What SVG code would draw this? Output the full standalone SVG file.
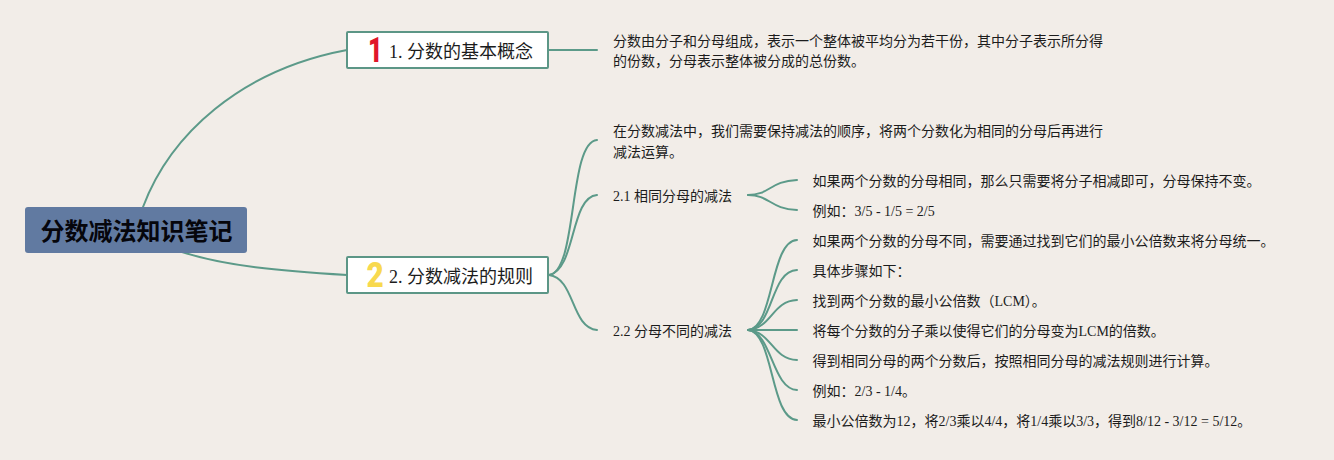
<svg xmlns="http://www.w3.org/2000/svg" width="1334" height="460" viewBox="0 0 1334 460">
<style>
text{font-family:"Liberation Serif","Noto Sans CJK SC",serif;fill:#1c1c1c}
.t{font-size:14px}
.m{font-size:18px}
.r{font-size:24px;font-weight:700;font-family:"Liberation Sans","Noto Sans CJK SC",sans-serif;fill:#06060c}
.box{fill:#fff;stroke:#5c9686;stroke-width:2}
.c path{fill:none;stroke:#5c9a89;stroke-width:2;stroke-linecap:round}
.i{font-family:"Roboto","Liberation Sans",sans-serif;font-weight:900;font-size:35px}
</style>
<rect width="1334" height="460" fill="#f2ede8"/>
<g id="connectors" class="c">
<path d="M143 207C170 135 240 70 347 50"/>
<path d="M182 252C225 266 280 271 347 275"/>
<path d="M548 50H597"/>
<path d="M549 275C578 272 568 142 597 140"/>
<path d="M549 275C576 270 570 197 597 195"/>
<path d="M549 275C575 278 571 328 597 330"/>
<path d="M748 195C770 195 770 181 797 180"/>
<path d="M748 195C770 195 770 209 797 210"/>
<path d="M748 330C774 328 770 241 797 240"/>
<path d="M748 330C774 328 770 271 797 270"/>
<path d="M748 330C772 328 772 301 797 300"/>
<path d="M748 330H797"/>
<path d="M748 330C772 332 772 359 797 360"/>
<path d="M748 330C772 332 772 389 797 390"/>
<path d="M748 330C774 332 770 419 797 420"/>
</g>
<g id="root"><rect x="25" y="207" width="222" height="46" rx="3" fill="#617aa1"/><text class="r" x="40.5" y="240">分数减法知识笔记</text></g>
<g id="n1"><rect class="box" x="347" y="32" width="201" height="36" rx="1"/><text class="i" transform="translate(368 62) scale(.72 1)" style="fill:#e0162b">1</text><text class="m" x="389" y="58">1. 分数的基本概念</text></g>
<g id="n2"><rect class="box" x="347" y="257" width="201" height="36" rx="1"/><text class="i" transform="translate(366.5 287) scale(.85 1)" style="fill:#f8d94e">2</text><text class="m" x="389" y="283">2. 分数减法的规则</text></g>
<g id="n1-desc"><text class="t" x="613" y="46">分数由分子和分母组成，表示一个整体被平均分为若干份，其中分子表示所分得</text><text class="t" x="613" y="66">的份数，分母表示整体被分成的总份数。</text></g>
<g id="n2-desc"><text class="t" x="613" y="136">在分数减法中，我们需要保持减法的顺序，将两个分数化为相同的分母后再进行</text><text class="t" x="613" y="157">减法运算。</text></g>
<g id="n21"><text class="t" x="613" y="201">2.1 相同分母的减法</text></g>
<g id="n22"><text class="t" x="613" y="336">2.2 分母不同的减法</text></g>
<g id="a1"><text class="t" x="812.5" y="186">如果两个分数的分母相同，那么只需要将分子相减即可，分母保持不变。</text></g>
<g id="a2"><text class="t" x="812.5" y="216">例如：3/5 - 1/5 = 2/5</text></g>
<g id="b1"><text class="t" x="812.5" y="246">如果两个分数的分母不同，需要通过找到它们的最小公倍数来将分母统一。</text></g>
<g id="b2"><text class="t" x="812.5" y="276">具体步骤如下：</text></g>
<g id="b3"><text class="t" x="812.5" y="306">找到两个分数的最小公倍数（LCM）。</text></g>
<g id="b4"><text class="t" x="812.5" y="336">将每个分数的分子乘以使得它们的分母变为LCM的倍数。</text></g>
<g id="b5"><text class="t" x="812.5" y="366">得到相同分母的两个分数后，按照相同分母的减法规则进行计算。</text></g>
<g id="b6"><text class="t" x="812.5" y="396">例如：2/3 - 1/4。</text></g>
<g id="b7"><text class="t" x="812.5" y="426">最小公倍数为12，将2/3乘以4/4，将1/4乘以3/3，得到8/12 - 3/12 = 5/12。</text></g>
</svg>
